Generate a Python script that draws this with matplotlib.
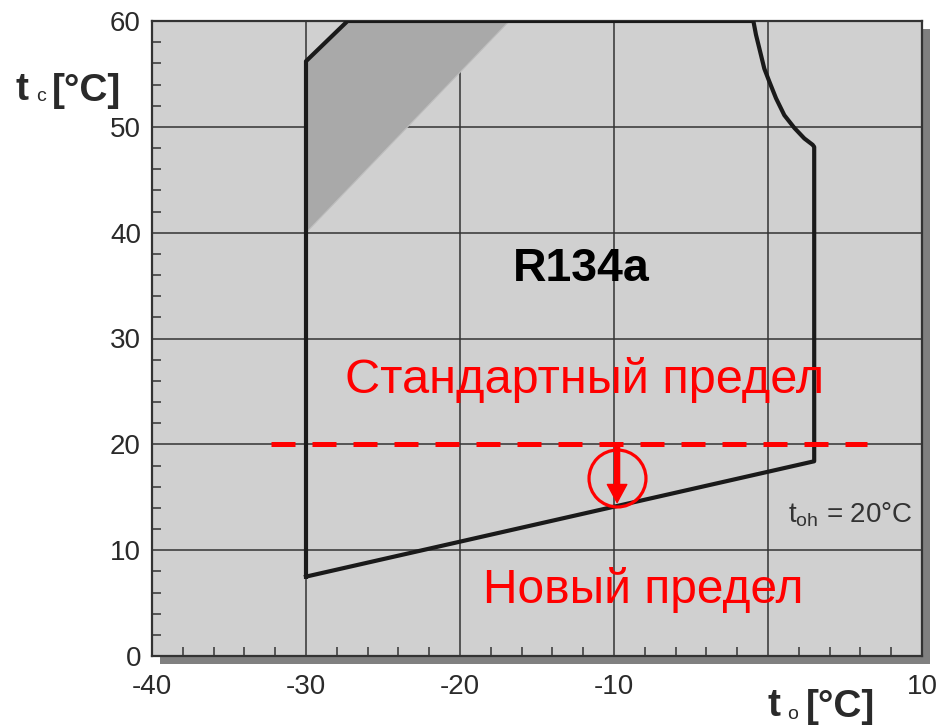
import matplotlib
matplotlib.use("Agg")
import matplotlib.pyplot as plt
from matplotlib.patches import Rectangle, Polygon
from matplotlib.ticker import MultipleLocator

plt.rcParams['font.family'] = ['Liberation Sans', 'DejaVu Sans']
plt.rcParams['axes.unicode_minus'] = False

# envelope of the operating range (t_o, t_c)
env_x = [-30, -30, -27.3, -0.95, -0.78, -0.56, -0.24, 0.08, 0.52, 1.06,
         1.71, 2.36, 2.9, 3.0, 3.0, -30]
env_y = [7.5, 56.2, 60, 60, 58.7, 57.4, 55.5, 54.3, 52.7, 51.1,
         49.9, 48.9, 48.3, 48.1, 18.4, 7.5]

# darker shaded corner
shade_x = [-30, -27.3, -16.8, -30]
shade_y = [56.2, 60, 60, 40]

# standard limit line and new-limit marker
limit_y = 20
limit_x = [-32.3, 6.4]
arrow_x = -9.8
arrow_tip = 14.5
circle_center = (-9.8, 16.8)

x_ticks = [-40, -30, -20, -10, 0, 10]
x_labels = ['-40', '-30', '-20', '-10', '', '10']
y_ticks = [0, 10, 20, 30, 40, 50, 60]

fig = plt.figure(figsize=(9.41, 7.26), dpi=100)
ax = fig.add_axes([152 / 941, 70 / 726, 770 / 941, 635 / 726])

# drop shadow behind the plot box
fig.patches.append(Rectangle((160 / 941, 62 / 726), 770 / 941, 635 / 726,
                             transform=fig.transFigure, facecolor='#808080',
                             edgecolor='none', zorder=-5))

ax.set_facecolor('#d0d0d0')
ax.set_xlim(-40, 10)
ax.set_ylim(0, 60)

ax.set_xticks(x_ticks)
ax.set_xticklabels(x_labels)
ax.set_yticks(y_ticks)
ax.xaxis.set_minor_locator(MultipleLocator(2))
ax.yaxis.set_minor_locator(MultipleLocator(2))
ax.grid(True, which='major', color='#333333', lw=1.1)
ax.set_axisbelow(True)

ax.tick_params(which='major', length=0, labelsize=20, labelcolor='#2a2a2a')
ax.tick_params(axis='y', which='major', pad=8)
ax.tick_params(axis='x', which='major', pad=13)
ax.tick_params(which='minor', direction='in', length=6.5, width=1.1,
               color='#333333')
for s in ax.spines.values():
    s.set_color('#333333')
    s.set_linewidth(1.6)

ax.add_patch(Polygon(list(zip(shade_x, shade_y)), closed=True,
                     facecolor='#a9a9a9', edgecolor='#bdbdbd', lw=0.8, zorder=2))
ax.plot(env_x, env_y, color='#1a1a1a', lw=3, solid_joinstyle='round', zorder=3)

ax.plot(limit_x, [limit_y, limit_y], color='red', lw=3.6,
        dashes=(4.8, 3.4), zorder=4)
ax.plot(*circle_center, marker='o', ms=41, mfc='none', mec='red', mew=2.3,
        zorder=5)
ax.annotate('', xy=(arrow_x, arrow_tip), xytext=(arrow_x, limit_y),
            arrowprops=dict(width=3.6, headwidth=14, headlength=13,
                            color='red', shrink=0), zorder=5)

ax.text(-12.1, 36.6, 'R134a', fontsize=33.5, fontweight='bold',
        ha='center', va='center', zorder=6)
ax.text(-11.9, 26.1, 'Стандартный предел', fontsize=35, color='red',
        ha='center', va='center', zorder=6)
ax.text(-8.1, 6.2, 'Новый предел', fontsize=34.5, color='red',
        ha='center', va='center', zorder=6)
ax.text(5.36, 12.57, r'$\mathregular{t_{oh}}$ = 20°C', fontsize=20,
        color='#333333', ha='center', va='baseline', zorder=6)

# axis titles
fig.text(15 / 941, 1 - 100 / 726, 't', fontsize=28, fontweight='bold',
         color='#2a2a2a')
fig.text(36 / 941, 1 - 101 / 726, 'c', fontsize=14, color='#2a2a2a')
fig.text(52 / 941, 1 - 101 / 726, '[°C]', fontsize=28, fontweight='bold',
         color='#2a2a2a')
fig.text(768 / 941, 1 - 716 / 726, 't', fontsize=28, fontweight='bold',
         color='#2a2a2a')
fig.text(787 / 941, 1 - 719 / 726, 'o', fontsize=14, color='#2a2a2a')
fig.text(806 / 941, 1 - 717 / 726, '[°C]', fontsize=28, fontweight='bold',
         color='#2a2a2a')

fig.savefig('out.png', dpi=100)
